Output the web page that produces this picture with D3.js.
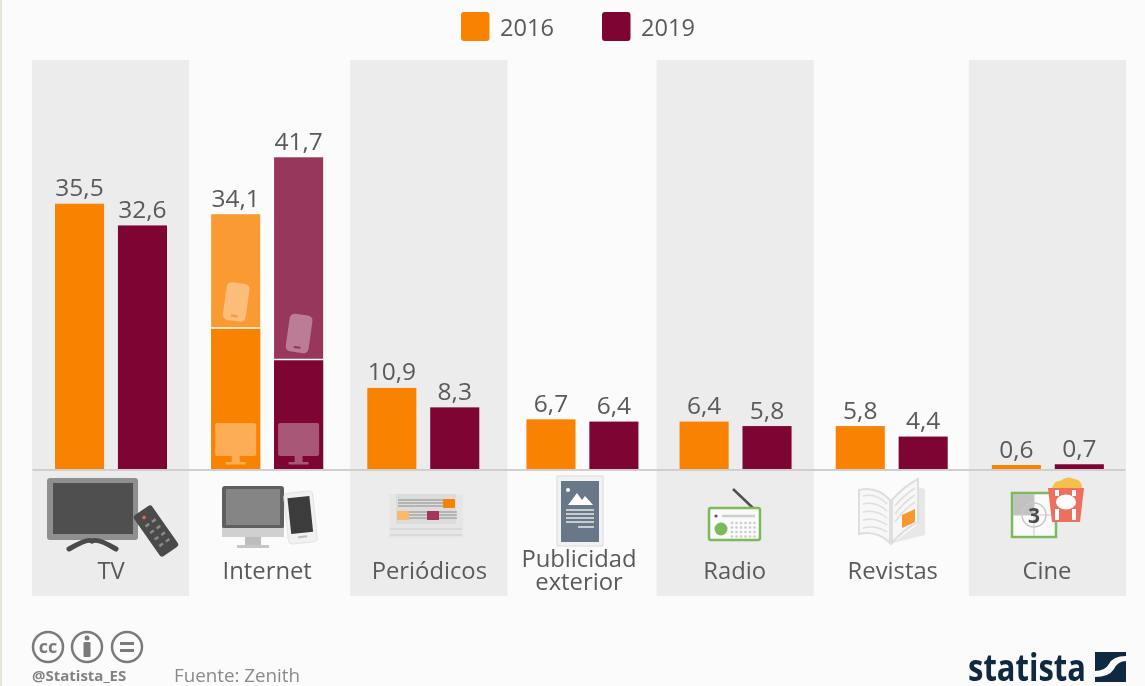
<!DOCTYPE html>
<html>
<head>
<meta charset="utf-8">
<script src="https://cdn.jsdelivr.net/npm/d3@7"></script>
<style>
  html, body { margin: 0; padding: 0; background: #fbfbfb; overflow: hidden; }
  text { font-family: "Open Sans", sans-serif; }
  /* the reference is a soft upscaled screenshot */
  #chart { filter: blur(0.5px); display: block; }
</style>
</head>
<body>
<svg id="chart" width="1145" height="686"></svg>
<script>
/* DATA */
const categories = ["TV", "Internet", "Periódicos", "Publicidad exterior", "Radio", "Revistas", "Cine"];
const years = ["2016", "2019"];
const values2016 = [35.5, 34.1, 10.9, 6.7, 6.4, 5.8, 0.6];
const values2019 = [32.6, 41.7, 8.3, 6.4, 5.8, 4.4, 0.7];
// the internet bars are split: desktop part at the bottom, mobile part on top
const internetDesktop = [18.9, 14.7];
const shadedCategories = ["TV", "Periódicos", "Radio", "Cine"];

const colors = ["#f98300", "#7e0533"];
const lightColors = ["#fa9a33", "#98375c"];
const labelColor = "#5a5a5a";

/* the source isn't perfectly regular, these fix up the few off-grid columns */
const panelNudge = { "Periódicos": 6 };
const labelNudge = { "TV": 1, "Internet": 1, "Periódicos": 7, "Revistas": 2 };
const barNudge = { "Publicidad exterior": 3 };

const width = 1145, height = 686;
const svg = d3.select("#chart");

/* SCALES */
const x = d3.scaleBand().domain(categories).range([32, 1125]);
const xYear = d3.scaleBand().domain(years).range([23, 135]).paddingInner(0.22);
const y = d3.scaleLinear().domain([0, 41.7]).range([469.5, 157.3]);
const fmt = v => String(v).replace(".", ",");

// thin cream edge on the left of the screenshot
svg.append("rect").attr("x", 0).attr("y", 0).attr("width", 2).attr("height", height).attr("fill", "#e6e3d8");

/////////////
/// PANELS
/////////////
svg.append("g").selectAll("rect")
  .data(shadedCategories)
  .join("rect")
    .attr("x", d => x(d) + (panelNudge[d] || 0))
    .attr("y", 60)
    .attr("width", x.bandwidth() + 1)
    .attr("height", 536)
    .attr("fill", "#ececec");

/////////////
/// LEGEND
/////////////
const legendX = d3.scaleOrdinal().domain(years).range([461, 602]);
const legend = svg.append("g").selectAll("g")
  .data(years)
  .join("g")
    .attr("transform", d => `translate(${legendX(d)},12)`);
legend.append("rect")
  .attr("width", 28.5).attr("height", 29).attr("rx", 3)
  .attr("fill", (d, i) => colors[i]);
legend.append("text")
  .attr("x", 39).attr("y", 23.5)
  .attr("font-size", 23.6)
  .attr("fill", labelColor)
  .text(d => d);

/////////////
/// BARS
/////////////
const bars = [];
categories.forEach((c, i) => {
  [values2016[i], values2019[i]].forEach((v, j) => {
    bars.push({ cat: c, year: years[j], yearIdx: j, value: v });
  });
});
const barX = d => x(d.cat) + xYear(d.year) + (barNudge[d.cat] || 0);

svg.append("g").selectAll("rect")
  .data(bars)
  .join("rect")
    .attr("x", barX)
    .attr("y", d => y(d.value))
    .attr("width", xYear.bandwidth())
    .attr("height", d => y(0) - y(d.value))
    .attr("fill", d => d.cat === "Internet" ? lightColors[d.yearIdx] : colors[d.yearIdx]);

// desktop part of internet, with the white divider on top
const internetBars = bars.filter(d => d.cat === "Internet");
svg.append("g").selectAll("rect")
  .data(internetBars)
  .join("rect")
    .attr("x", barX)
    .attr("y", d => y(internetDesktop[d.yearIdx]))
    .attr("width", xYear.bandwidth())
    .attr("height", d => y(0) - y(internetDesktop[d.yearIdx]))
    .attr("fill", d => colors[d.yearIdx]);
svg.append("g").selectAll("line")
  .data(internetBars)
  .join("line")
    .attr("x1", barX)
    .attr("x2", d => barX(d) + xYear.bandwidth())
    .attr("y1", d => y(internetDesktop[d.yearIdx]))
    .attr("y2", d => y(internetDesktop[d.yearIdx]))
    .attr("stroke", "#fff").attr("stroke-width", 1.4);

// little phone and monitor glyphs inside the internet bars
internetBars.forEach(d => {
  const cx = barX(d) + xYear.bandwidth() / 2;
  const top = y(internetDesktop[d.yearIdx]);
  const ph = svg.append("g")
    .attr("transform", `translate(${cx + 0.5},${top - 26}) rotate(8)`);
  ph.append("rect").attr("x", -11.5).attr("y", -19).attr("width", 23).attr("height", 38).attr("rx", 5)
    .attr("fill", "#fff").attr("fill-opacity", 0.35);
  ph.append("rect").attr("x", -3.5).attr("y", 13).attr("width", 7).attr("height", 2.2).attr("rx", 1)
    .attr("fill", colors[d.yearIdx]).attr("fill-opacity", 0.6);
  const mon = svg.append("g").attr("fill", "#fff").attr("fill-opacity", 0.33);
  mon.append("rect").attr("x", cx - 20.5).attr("y", 423).attr("width", 41).attr("height", 33).attr("rx", 2);
  mon.append("rect").attr("x", cx - 4).attr("y", 456).attr("width", 8).attr("height", 6);
  mon.append("rect").attr("x", cx - 10).attr("y", 462).attr("width", 20).attr("height", 2.5);
});

// value labels
svg.append("g").selectAll("text")
  .data(bars)
  .join("text")
    .attr("x", d => barX(d) + xYear.bandwidth() / 2)
    .attr("y", d => y(d.value) - 7.5)
    .attr("text-anchor", "middle")
    .attr("font-size", 24.5)
    .attr("fill", labelColor)
    .text(d => fmt(d.value));

// baseline
const axis = svg.append("g")
  .attr("transform", `translate(0,${y(0)})`)
  .call(d3.axisBottom(x).tickSize(0).tickFormat(""));
axis.select(".domain").attr("stroke", "#cfcfcf").attr("stroke-width", 2);

/////////////
/// CATEGORY LABELS
/////////////
svg.append("g").selectAll("text")
  .data(categories)
  .join("text")
    .attr("x", d => x(d) + x.bandwidth() / 2 + (labelNudge[d] || 0))
    .attr("y", 579)
    .attr("text-anchor", "middle")
    .attr("font-size", 23.8)
    .attr("fill", labelColor)
    .each(function(d) {
      const words = d.split(" ");
      if (words.length === 1) { d3.select(this).text(d); return; }
      words.forEach((w, i) => {
        d3.select(this).append("tspan")
          .attr("x", x(d) + x.bandwidth() / 2 + 0.5)
          .attr("y", 567 + i * 23)
          .text(w);
      });
    });

/////////////
/// ICONS
/////////////
const icons = svg.append("g");

// TV
const tv = icons.append("g");
tv.append("rect").attr("x", 47).attr("y", 478).attr("width", 91).attr("height", 62).attr("rx", 3).attr("fill", "#8f8f8f");
tv.append("rect").attr("x", 53).attr("y", 483).attr("width", 80).attr("height", 51).attr("fill", "#4f4f4f");
tv.append("path").attr("d", "M69,549 Q88,538 92,541 Q98,538 116,549").attr("fill", "none").attr("stroke", "#4a4a4a").attr("stroke-width", 5).attr("stroke-linecap", "round");
const remote = tv.append("g").attr("transform", "translate(156,531) rotate(-35)");
remote.append("rect").attr("x", -11).attr("y", -25).attr("width", 22).attr("height", 50).attr("rx", 3).attr("fill", "#4a4a4a");
remote.append("circle").attr("cx", -2).attr("cy", -18).attr("r", 1.8).attr("fill", "#e8674a");
d3.range(4).forEach(r => [-4, 4].forEach(c => {
  remote.append("rect").attr("x", c - 2).attr("y", -11 + r * 8).attr("width", 4.5).attr("height", 2.5).attr("fill", "#8a8a8a");
}));

// Internet
const net = icons.append("g");
net.append("rect").attr("x", 222).attr("y", 486).attr("width", 62).attr("height", 43).attr("rx", 3).attr("fill", "#5f5f5f");
net.append("rect").attr("x", 226).attr("y", 489).attr("width", 54).attr("height", 36).attr("fill", "#858585");
net.append("rect").attr("x", 222).attr("y", 528).attr("width", 62).attr("height", 9).attr("fill", "#d0d0d0");
net.append("rect").attr("x", 245).attr("y", 537).attr("width", 16).attr("height", 8).attr("fill", "#bdbdbd");
net.append("rect").attr("x", 237).attr("y", 545).attr("width", 32).attr("height", 3).attr("fill", "#c6c6c6");
const phone = net.append("g").attr("transform", "translate(300,517) rotate(-6)");
phone.append("rect").attr("x", -14).attr("y", -25).attr("width", 29).attr("height", 51).attr("rx", 4).attr("fill", "#f1f1f1").attr("stroke", "#e2e2e2");
phone.append("rect").attr("x", -10.5).attr("y", -20).attr("width", 22).attr("height", 36).attr("fill", "#3c3c3c");
phone.append("rect").attr("x", -4).attr("y", 19).attr("width", 9).attr("height", 2).attr("fill", "#bdbdbd");

// Periódicos
const news = icons.append("g");
news.append("rect").attr("x", 389).attr("y", 494).attr("width", 74).attr("height", 44).attr("fill", "#e6e6e6");
news.append("rect").attr("x", 396).attr("y", 494).attr("width", 60).attr("height", 30).attr("fill", "#dcdcdc");
[500, 503, 506].forEach(ly => news.append("line").attr("x1", 398).attr("x2", 443).attr("y1", ly).attr("y2", ly).attr("stroke", "#8b8b8b").attr("stroke-width", 1.2));
[512, 515, 518].forEach(ly => news.append("line").attr("x1", 408).attr("x2", 457).attr("y1", ly).attr("y2", ly).attr("stroke", "#8b8b8b").attr("stroke-width", 1.2));
[529, 535].forEach(ly => news.append("line").attr("x1", 390).attr("x2", 462).attr("y1", ly).attr("y2", ly).attr("stroke", "#d4d4d4").attr("stroke-width", 1.5));
news.append("rect").attr("x", 443).attr("y", 499).attr("width", 12).attr("height", 9).attr("rx", 1).attr("fill", "#f98300");
news.append("rect").attr("x", 397).attr("y", 511).attr("width", 12).attr("height", 9).attr("fill", "#fbb968");
news.append("rect").attr("x", 427).attr("y", 511).attr("width", 12).attr("height", 9).attr("fill", "#a5345f");

// Publicidad exterior
const bill = icons.append("g");
bill.append("rect").attr("x", 557).attr("y", 476).attr("width", 46).attr("height", 70).attr("fill", "#f2f2f2").attr("stroke", "#dcdcdc");
bill.append("rect").attr("x", 561).attr("y", 481).attr("width", 38).attr("height", 61).attr("fill", "#687889");
bill.append("path").attr("d", "M568,505 L577,493 L582,500 L585,496 L593,505 Z").attr("fill", "#fff");
bill.append("circle").attr("cx", 568).attr("cy", 490).attr("r", 2).attr("fill", "#fff");
[510, 514, 518, 522].forEach(ly => bill.append("line").attr("x1", 566).attr("x2", 594).attr("y1", ly).attr("y2", ly).attr("stroke", "#e8e8e8").attr("stroke-width", 1.5));
bill.append("line").attr("x1", 578).attr("x2", 594).attr("y1", 527).attr("y2", 527).attr("stroke", "#e8e8e8").attr("stroke-width", 1.5);

// Radio
const radio = icons.append("g");
radio.append("line").attr("x1", 733).attr("y1", 489).attr("x2", 753).attr("y2", 508).attr("stroke", "#4f4f4f").attr("stroke-width", 2.5);
radio.append("rect").attr("x", 709).attr("y", 508).attr("width", 51).attr("height", 32).attr("rx", 2).attr("fill", "#fafafa").attr("stroke", "#7cb95a").attr("stroke-width", 2.5);
radio.append("circle").attr("cx", 716).attr("cy", 516).attr("r", 1.6).attr("fill", "#555");
radio.append("line").attr("x1", 722).attr("x2", 755).attr("y1", 516).attr("y2", 516).attr("stroke", "#cfcfcf").attr("stroke-width", 2.5);
radio.append("circle").attr("cx", 721).attr("cy", 529).attr("r", 6.5).attr("fill", "#7cb95a");
d3.range(4).forEach(r => d3.range(6).forEach(c => {
  radio.append("circle").attr("cx", 732 + c * 4.5).attr("cy", 523 + r * 4.5).attr("r", 1.3).attr("fill", "#cdcdcd");
}));

// Revistas
const mag = icons.append("g");
mag.append("path").attr("d", "M918,487 L925,489 L925,535 L893,543 L918,524 Z").attr("fill", "#e8e8e8");
mag.append("path").attr("d", "M859,490 Q877,486 890,500 L890,543 Q877,530 859,534 Z").attr("fill", "#f7f7f7").attr("stroke", "#dedede").attr("stroke-width", 2);
mag.append("path").attr("d", "M892,500 Q903,487 918,479 L918,522 Q903,530 892,543 Z").attr("fill", "#f7f7f7").attr("stroke", "#dedede").attr("stroke-width", 2);
d3.range(5).forEach(i => {
  mag.append("path").attr("d", `M863,${496 + i * 8} Q876,${493 + i * 8} 887,${504 + i * 7}`).attr("fill", "none").attr("stroke", "#dedede").attr("stroke-width", 1.5);
  if (i < 3) mag.append("path").attr("d", `M895,${506 + i * 8} Q904,${495 + i * 7} 915,${488 + i * 7}`).attr("fill", "none").attr("stroke", "#dedede").attr("stroke-width", 1.5);
});
mag.append("path").attr("d", "M902,515 L915,509 L915,522 L902,528 Z").attr("fill", "#f6972f");

// Cine
const cine = icons.append("g");
cine.append("rect").attr("x", 1012).attr("y", 493).attr("width", 44).attr("height", 44).attr("fill", "#fafafa").attr("stroke", "#7cb95a").attr("stroke-width", 2.5);
cine.append("rect").attr("x", 1013).attr("y", 494).attr("width", 21).attr("height", 21).attr("fill", "#c2c2c2");
cine.append("circle").attr("cx", 1034).attr("cy", 515).attr("r", 12).attr("fill", "none").attr("stroke", "#c8c8c8").attr("stroke-width", 1.5);
cine.append("line").attr("x1", 1034).attr("x2", 1034).attr("y1", 494).attr("y2", 536).attr("stroke", "#c8c8c8");
cine.append("line").attr("x1", 1013).attr("x2", 1055).attr("y1", 515).attr("y2", 515).attr("stroke", "#c8c8c8");
cine.append("text").attr("x", 1034).attr("y", 523).attr("text-anchor", "middle").attr("font-size", 21).attr("font-weight", 700).attr("fill", "#4a4a4a").text("3");
cine.append("path").attr("d", "M1052,489 Q1054,480 1060,481 Q1068,475 1074,479 Q1082,479 1082,489 Z").attr("fill", "#f5c04a");
cine.append("path").attr("d", "M1048,488 L1084,488 L1080,522 L1052,522 Z").attr("fill", "#ef6f5e");
[1055, 1072].forEach(sx => {
  cine.append("rect").attr("x", sx).attr("y", 490).attr("width", 4).attr("height", 6).attr("fill", "#fff");
  cine.append("rect").attr("x", sx).attr("y", 509).attr("width", 4).attr("height", 11).attr("fill", "#fff");
});
cine.append("ellipse").attr("cx", 1066).attr("cy", 502).attr("rx", 10).attr("ry", 7.5).attr("fill", "#fff");

/////////////
/// FOOTER
/////////////
const cc = svg.append("g");
[48, 87, 127].forEach(cx => {
  cc.append("circle").attr("cx", cx).attr("cy", 647).attr("r", 15).attr("fill", "#fbfbfb").attr("stroke", "#7a7a7a").attr("stroke-width", 2.5);
});
cc.append("text").attr("x", 48).attr("y", 653).attr("text-anchor", "middle").attr("font-size", 18).attr("font-weight", 700).attr("fill", "#7a7a7a").text("cc");
cc.append("circle").attr("cx", 87).attr("cy", 638).attr("r", 2.5).attr("fill", "#7a7a7a");
cc.append("rect").attr("x", 83.5).attr("y", 642).attr("width", 7).attr("height", 15).attr("rx", 1).attr("fill", "#7a7a7a");
cc.append("rect").attr("x", 120).attr("y", 642).attr("width", 14).attr("height", 3).attr("fill", "#7a7a7a");
cc.append("rect").attr("x", 120).attr("y", 649).attr("width", 14).attr("height", 3).attr("fill", "#7a7a7a");

svg.append("text").attr("x", 32).attr("y", 681).attr("font-size", 15).attr("font-weight", 700).attr("fill", "#828282").text("@Statista_ES");
svg.append("text").attr("x", 174).attr("y", 681.5).attr("font-size", 18)
  .attr("textLength", 126).attr("lengthAdjust", "spacingAndGlyphs")
  .attr("fill", "#8a8a8a").text("Fuente: Zenith");

// statista logo
svg.append("text")
  .attr("x", 968).attr("y", 681)
  .attr("font-size", 37).attr("font-weight", 700)
  .attr("textLength", 118).attr("lengthAdjust", "spacingAndGlyphs")
  .attr("fill", "#0f2a40")
  .text("statista");
const logo = svg.append("g");
logo.append("rect").attr("x", 1095).attr("y", 652).attr("width", 31).attr("height", 30).attr("fill", "#0f2a40");
logo.append("path").attr("d", "M1095,671 Q1105,671 1109,664 Q1113,656 1126,656 L1126,661 Q1118,661 1114,669 Q1109,677 1095,677 Z").attr("fill", "#fbfbfb");
</script>
</body>
</html>
